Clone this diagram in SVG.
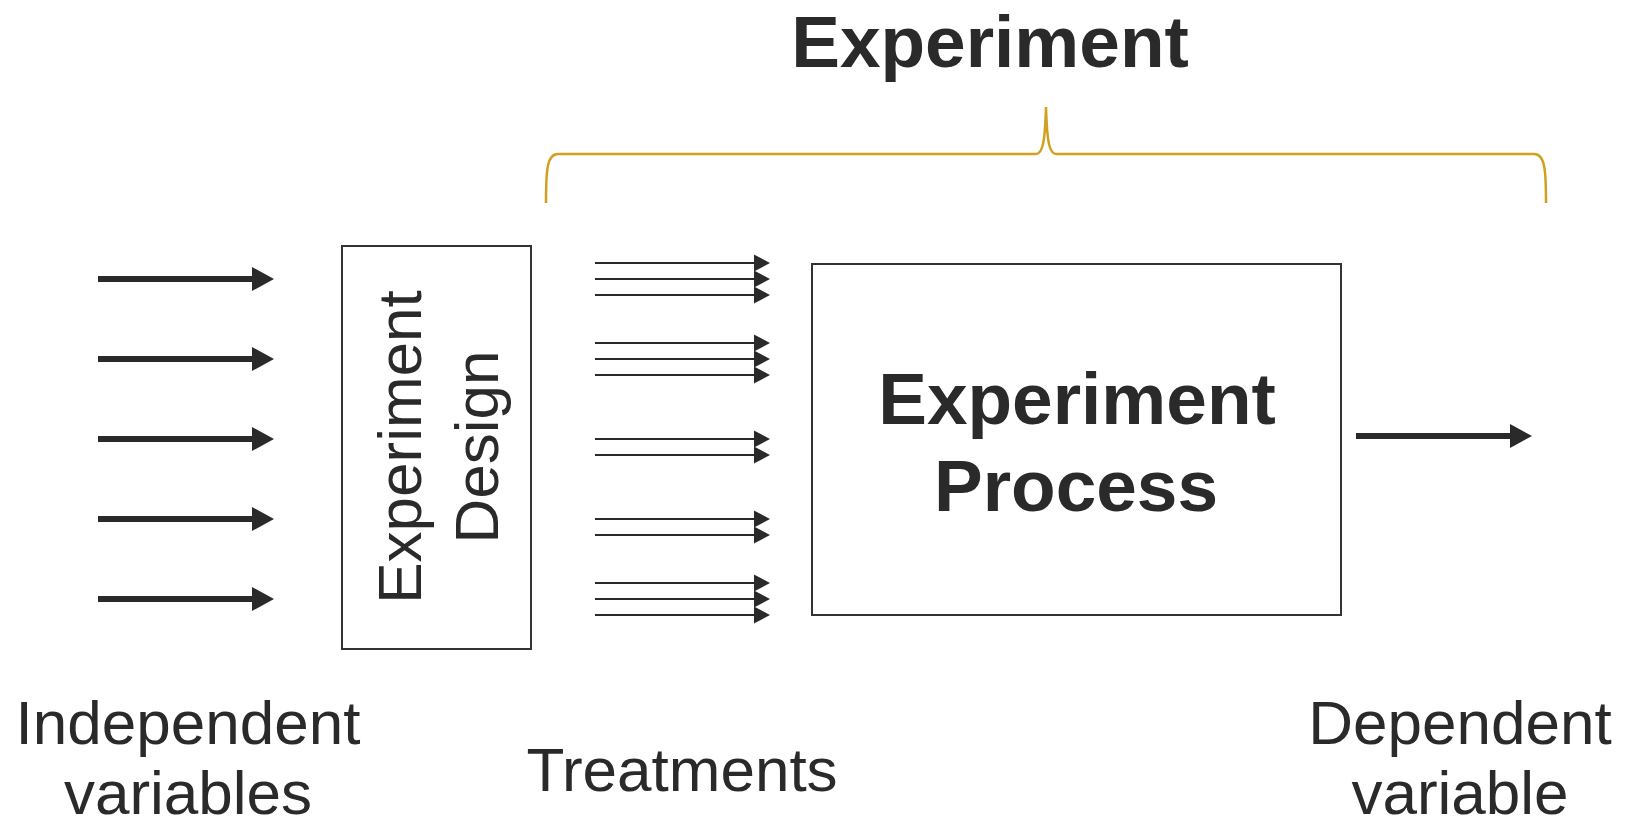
<svg xmlns="http://www.w3.org/2000/svg" width="1632" height="826" viewBox="0 0 1632 826">
  <style>
    .txt { font-family: "Liberation Sans", Arial, Helvetica, sans-serif; fill: #2a2a2a; }
    .reg { font-size: 62px; }
    .bold { font-size: 73px; font-weight: bold; }
    .box { fill: #ffffff; stroke: #333333; stroke-width: 2; }
    .thick { stroke: #2a2a2a; stroke-width: 6; fill: none; }
    .thin { stroke: #2a2a2a; stroke-width: 2; fill: none; }
    .brace { stroke: #d0a01e; stroke-width: 2.5; fill: none; }
  </style>
  <defs>
    <marker id="bigHead" markerUnits="userSpaceOnUse" markerWidth="22" markerHeight="24" refX="0" refY="12" orient="auto" overflow="visible">
      <path d="M0,0 L22,12 L0,24 z" fill="#2a2a2a"/>
    </marker>
    <marker id="smallHead" markerUnits="userSpaceOnUse" markerWidth="16" markerHeight="17" refX="0" refY="8.5" orient="auto" overflow="visible">
      <path d="M0,0 L16,8.5 L0,17 z" fill="#2a2a2a"/>
    </marker>
  </defs>
  <rect width="1632" height="826" fill="#ffffff"/>

  <g id="title">
    <text class="txt bold" x="990" y="67" text-anchor="middle">Experiment</text>
  </g>

  <g id="brace">
    <path class="brace" d="M546,203 C546,170 547,154 558,154 L1036,154 C1043,154 1045,140 1046,107 C1047,140 1049,154 1056,154 L1534,154 C1545,154 1546,170 1546,203"/>
  </g>

  <g id="connectors">
    <line class="thick" x1="98" y1="279" x2="252" y2="279" marker-end="url(#bigHead)"/>
    <line class="thick" x1="98" y1="359" x2="252" y2="359" marker-end="url(#bigHead)"/>
    <line class="thick" x1="98" y1="439" x2="252" y2="439" marker-end="url(#bigHead)"/>
    <line class="thick" x1="98" y1="519" x2="252" y2="519" marker-end="url(#bigHead)"/>
    <line class="thick" x1="98" y1="599" x2="252" y2="599" marker-end="url(#bigHead)"/>

    <line class="thin" x1="595" y1="263" x2="754" y2="263" marker-end="url(#smallHead)"/>
    <line class="thin" x1="595" y1="279" x2="754" y2="279" marker-end="url(#smallHead)"/>
    <line class="thin" x1="595" y1="295" x2="754" y2="295" marker-end="url(#smallHead)"/>

    <line class="thin" x1="595" y1="343" x2="754" y2="343" marker-end="url(#smallHead)"/>
    <line class="thin" x1="595" y1="359" x2="754" y2="359" marker-end="url(#smallHead)"/>
    <line class="thin" x1="595" y1="375" x2="754" y2="375" marker-end="url(#smallHead)"/>

    <line class="thin" x1="595" y1="439" x2="754" y2="439" marker-end="url(#smallHead)"/>
    <line class="thin" x1="595" y1="455" x2="754" y2="455" marker-end="url(#smallHead)"/>

    <line class="thin" x1="595" y1="519" x2="754" y2="519" marker-end="url(#smallHead)"/>
    <line class="thin" x1="595" y1="535" x2="754" y2="535" marker-end="url(#smallHead)"/>

    <line class="thin" x1="595" y1="583" x2="754" y2="583" marker-end="url(#smallHead)"/>
    <line class="thin" x1="595" y1="599" x2="754" y2="599" marker-end="url(#smallHead)"/>
    <line class="thin" x1="595" y1="615" x2="754" y2="615" marker-end="url(#smallHead)"/>

    <line class="thick" x1="1356" y1="436" x2="1510" y2="436" marker-end="url(#bigHead)"/>
  </g>

  <g id="experiment-design">
    <rect class="box" x="342" y="246" width="189" height="403"/>
    <text class="txt reg" transform="translate(421,447) rotate(-90)" text-anchor="middle">Experiment</text>
    <text class="txt reg" transform="translate(498,447) rotate(-90)" text-anchor="middle">Design</text>
  </g>

  <g id="experiment-process">
    <rect class="box" x="812" y="264" width="529" height="351"/>
    <text class="txt bold" x="1077" y="424" text-anchor="middle">Experiment</text>
    <text class="txt bold" x="1076" y="511" text-anchor="middle">Process</text>
  </g>

  <g id="independent-variables">
    <text class="txt reg" x="188" y="744" text-anchor="middle">Independent</text>
    <text class="txt reg" x="188" y="814" text-anchor="middle">variables</text>
  </g>

  <g id="treatments">
    <text class="txt reg" x="682" y="791" text-anchor="middle">Treatments</text>
  </g>

  <g id="dependent-variable">
    <text class="txt reg" x="1460" y="744" text-anchor="middle">Dependent</text>
    <text class="txt reg" x="1460" y="814" text-anchor="middle">variable</text>
  </g>
</svg>
